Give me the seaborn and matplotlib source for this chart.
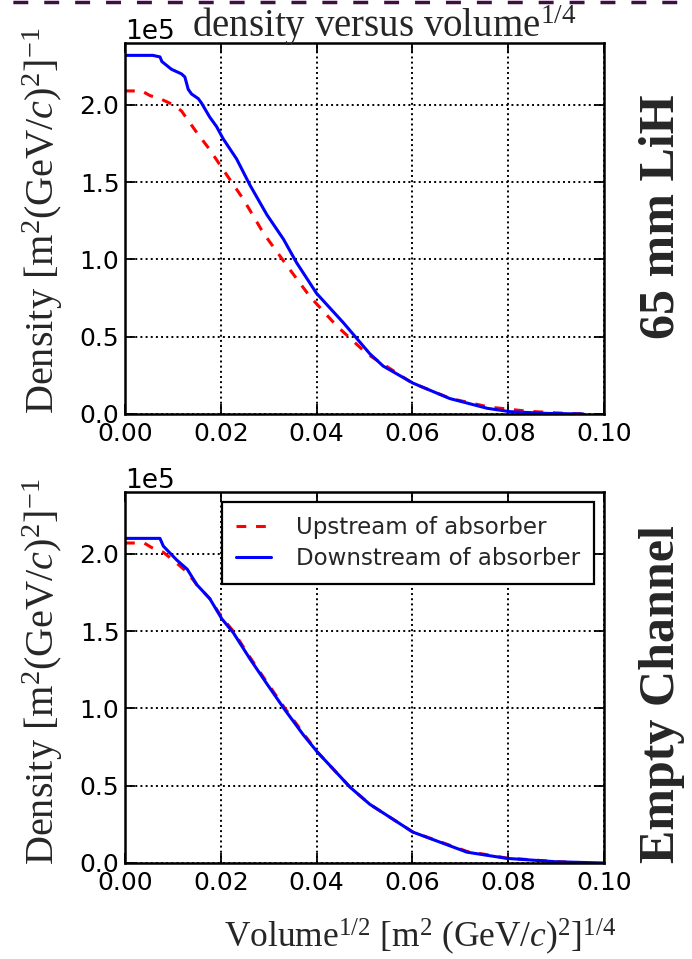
import numpy as np
import pandas as pd
import matplotlib
matplotlib.use("Agg")
import matplotlib.pyplot as plt
from matplotlib.lines import Line2D
import seaborn as sns

# ---------------- data (density in units of 1e5) ----------------
top_down_x = [0.0, 0.0058, 0.0073, 0.0077, 0.0097, 0.0118, 0.0125, 0.0132, 0.0139, 0.0153,
              0.0160, 0.0177, 0.0191, 0.0205, 0.0233, 0.0261, 0.0296, 0.0331, 0.0358, 0.0400,
              0.0456, 0.0511, 0.0539, 0.0601, 0.0678, 0.0756, 0.0804, 0.0880, 0.0957]
top_down_y = [2.32, 2.32, 2.31, 2.28, 2.23, 2.20, 2.18, 2.10, 2.07, 2.04,
              2.01, 1.92, 1.86, 1.78, 1.65, 1.48, 1.29, 1.13, 0.98, 0.78,
              0.59, 0.39, 0.31, 0.20, 0.10, 0.037, 0.015, 0.004, 0.0]
top_up_x = [0.0, 0.0035, 0.0052, 0.0073, 0.0101, 0.0118, 0.0150, 0.0177, 0.0205, 0.0247,
            0.0289, 0.0338, 0.0386, 0.0442, 0.0505, 0.0600, 0.0680, 0.0760, 0.0840, 0.0900, 0.0965]
top_up_y = [2.09, 2.09, 2.06, 2.04, 2.00, 1.96, 1.82, 1.71, 1.58, 1.39,
            1.17, 0.96, 0.76, 0.57, 0.39, 0.20, 0.10, 0.045, 0.018, 0.007, 0.0]

bot_down_x = [0.0, 0.0073, 0.0080, 0.0108, 0.0130, 0.0150, 0.0177, 0.0202, 0.0226, 0.0261,
              0.0296, 0.0334, 0.0372, 0.0401, 0.0470, 0.0511, 0.0601, 0.0714, 0.0797, 0.0900, 0.1000]
bot_down_y = [2.10, 2.10, 2.05, 1.96, 1.90, 1.80, 1.71, 1.58, 1.49, 1.32,
              1.16, 0.99, 0.83, 0.72, 0.49, 0.38, 0.20, 0.07, 0.03, 0.008, 0.0]
bot_up_x = [0.0, 0.0040, 0.0056, 0.0080, 0.0108, 0.0130, 0.0150, 0.0177, 0.0202, 0.0226, 0.0261,
            0.0296, 0.0334, 0.0372, 0.0401, 0.0470, 0.0511, 0.0601, 0.0714, 0.0797, 0.0900, 0.0970]
bot_up_y = [2.07, 2.07, 2.04, 2.01, 1.94, 1.88, 1.80, 1.71, 1.59, 1.50, 1.33,
            1.17, 1.00, 0.84, 0.72, 0.49, 0.38, 0.20, 0.075, 0.032, 0.009, 0.0]

x_ticks = [0.00, 0.02, 0.04, 0.06, 0.08, 0.10]
y_ticks = [0.0, 0.5, 1.0, 1.5, 2.0]
scale = 1e5
series_labels = ["Upstream of absorber", "Downstream of absorber"]
panel_labels = ["65 mm LiH", "Empty Channel"]

# ---------------- style ----------------
sns.set_theme(style="ticks")
plt.rcParams["font.family"] = ["DejaVu Sans"]
plt.rcParams["mathtext.fontset"] = "custom"
plt.rcParams["mathtext.rm"] = "Liberation Serif"
plt.rcParams["mathtext.it"] = "Liberation Serif:italic"
plt.rcParams["mathtext.bf"] = "Liberation Serif:bold"

fig = plt.figure(figsize=(6.92, 9.59), dpi=100)
W, H = 692.0, 959.0

def ax_rect(l, t, r, b):
    return [l / W, 1 - b / H, (r - l) / W, (b - t) / H]

ax_top = fig.add_axes(ax_rect(125, 43, 604, 414))
ax_bot = fig.add_axes(ax_rect(125, 492, 604, 863))

def make_df(x, y, lab):
    return pd.DataFrame({"x": x, "y": np.array(y) * scale, "s": lab})

panels = [
    (ax_top, make_df(top_up_x, top_up_y, series_labels[0]), make_df(top_down_x, top_down_y, series_labels[1])),
    (ax_bot, make_df(bot_up_x, bot_up_y, series_labels[0]), make_df(bot_down_x, bot_down_y, series_labels[1])),
]

for ax, d_up, d_down in panels:
    sns.lineplot(data=d_up, x="x", y="y", ax=ax, color="red", lw=2.2,
                 label=series_labels[0], sort=False, estimator=None)
    sns.lineplot(data=d_down, x="x", y="y", ax=ax, color="blue", lw=2.2,
                 label=series_labels[1], sort=False, estimator=None)
    ax.lines[0].set_dashes((3.2, 3.2))
    ax.set_xlim(0, 0.10)
    ax.set_ylim(0, 2.4 * scale)
    ax.set_xticks(x_ticks)
    ax.set_xticklabels([f"{v:.2f}" for v in x_ticks])
    ax.set_yticks([v * scale for v in y_ticks])
    ax.ticklabel_format(axis="y", style="sci", scilimits=(0, 0))
    ax.tick_params(direction="in", length=7, width=1.3, top=True, right=True,
                   labelsize=18, colors="black")
    ax.tick_params(axis="x", pad=6)
    ax.tick_params(axis="y", pad=4)
    ax.yaxis.get_offset_text().set_fontsize(19)
    ax.grid(True, color="black", linestyle=":", linewidth=1.4)
    for sp in ax.spines.values():
        sp.set_linewidth(1.8)
        sp.set_color("black")
    ax.set_xlabel("")
    ax.set_ylabel("")

ax_top.get_legend().remove()
leg = ax_bot.legend(loc="upper right", fontsize=16.5, frameon=True, fancybox=False,
                    edgecolor="black", framealpha=1, handlelength=1.5,
                    handletextpad=1.1, borderaxespad=0.45, borderpad=0.6,
                    labelspacing=0.35)
leg.get_frame().set_linewidth(1.6)
leg.legend_handles[0].set_dashes((3.2, 3.2))

serif = "Liberation Serif"
fig.text(192 / W, 1 - 37 / H, r"density versus volume$^{1/4}$", fontsize=28,
         family=serif, ha="left", va="baseline")

ylab = r"Density [m$^2$(GeV/$c$)$^2$]$^{-1}$"
fig.text(43 / W, 1 - 221 / H, ylab, rotation=90, fontsize=29, family=serif,
         ha="center", va="center")
fig.text(43 / W, 1 - 672 / H, ylab, rotation=90, fontsize=29, family=serif,
         ha="center", va="center")

fig.text(420 / W, 1 - 937 / H, r"Volume$^{1/2}$ [m$^2$ (GeV/$c$)$^2$]$^{1/4}$",
         fontsize=25.5, family=serif, ha="center", va="center")

fig.text(662 / W, 1 - 217 / H, panel_labels[0], rotation=90, fontsize=36,
         family=serif, weight="bold", ha="center", va="center")
fig.text(662 / W, 1 - 694 / H, panel_labels[1], rotation=90, fontsize=36,
         family=serif, weight="bold", ha="center", va="center")

fig.add_artist(Line2D([0, 1], [1 - 1.5 / H, 1 - 1.5 / H], transform=fig.transFigure,
                      color="#3f0f42", lw=2.5, linestyle=(5.2, (4.3, 4.6))))

fig.savefig("out.png", dpi=100)
